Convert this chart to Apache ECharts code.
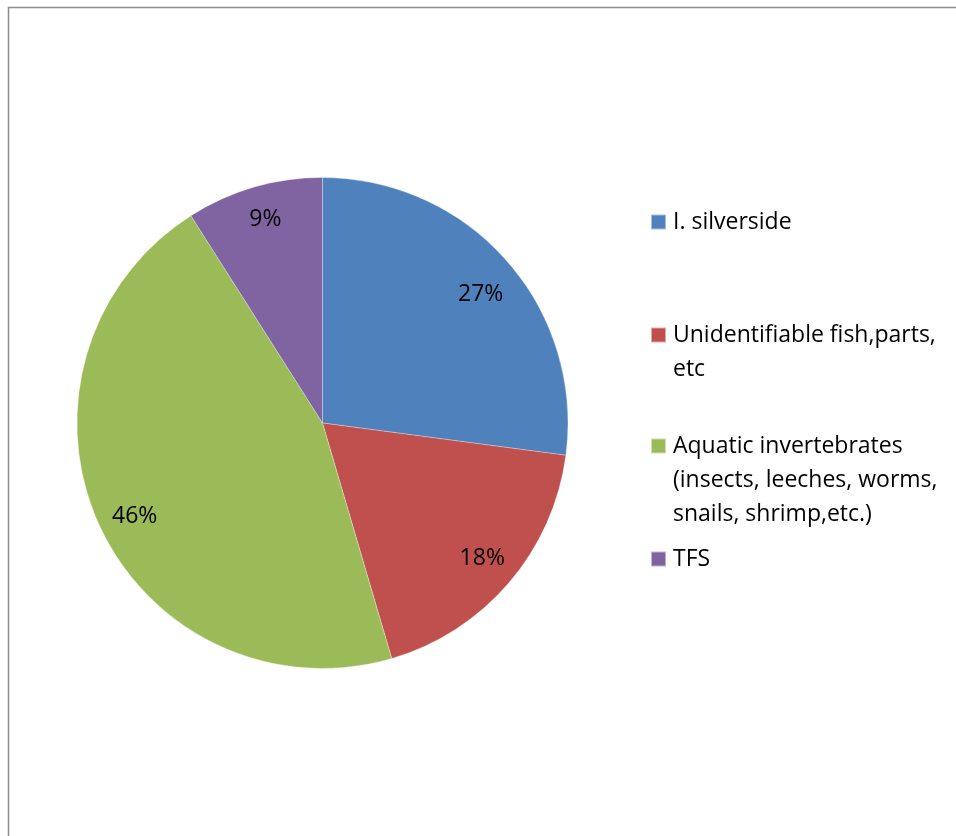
<!DOCTYPE html>
<html>
<head>
<meta charset="utf-8">
<script src="https://cdn.jsdelivr.net/npm/echarts@6/dist/echarts.min.js"></script>
<style>
html,body{margin:0;padding:0;background:#fff;}
#chart{width:956px;height:836px;}
</style>
</head>
<body>
<div id="chart"></div>
<script>
const categories = ['I. silverside', 'Unidentifiable fish,parts, etc', 'Aquatic invertebrates (insects, leeches, worms, snails, shrimp,etc.)', 'TFS'];
const legendLines = [
  ['I. silverside'],
  ['Unidentifiable fish,parts,', 'etc'],
  ['Aquatic invertebrates', '(insects, leeches, worms,', 'snails, shrimp,etc.)'],
  ['TFS']
];
const values = [27.1, 18.35, 45.55, 9.0];
const colors = ['#4F81BD', '#C0504D', '#9BBB59', '#8064A2'];

const FONT = 'Open Sans';
const LH = 34;
const R = 245.5;
const CX = 322.5, CY = 423;
const legendFirstLineCenters = [222, 335, 446, 559];
const labelNudges = [[-1, 11], [-1, -2], [5, 6], [2, 0]];

const data = categories.map((c, i) => ({ name: c, value: values[i], itemStyle: { color: colors[i] } }));

const legends = categories.map((c, i) => {
  const n = legendLines[i].length;
  return {
    show: true,
    orient: 'vertical',
    left: 650,
    top: legendFirstLineCenters[i] - LH / 2 - (n - 1) * LH,
    padding: 0,
    itemWidth: 15,
    itemHeight: 15,
    icon: 'rect',
    selectedMode: false,
    data: [c],
    formatter: function (name) {
      const k = categories.indexOf(name);
      const lines = legendLines[k];
      return new Array(lines.length - 1).fill('').concat(lines).join('\n');
    },
    textStyle: {
      fontFamily: FONT,
      fontSize: 23,
      color: '#000',
      lineHeight: LH,
      padding: [0, 0, 0, 2]
    }
  };
});

const chart = echarts.init(document.getElementById('chart'), null, { renderer: 'canvas' });
chart.setOption({
  animation: false,
  backgroundColor: '#fff',
  legend: legends,
  graphic: [{
    type: 'polyline',
    silent: true,
    shape: { points: [[8.5, 840], [8.5, 7.5], [960, 7.5]] },
    style: { stroke: '#8c8c8c', lineWidth: 1.5, fill: null }
  }],
  series: [
    {
      type: 'pie',
      center: [CX, CY],
      radius: [0, R],
      startAngle: 90,
      clockwise: true,
      data: data,
      label: { show: false },
      labelLine: { show: false },
      itemStyle: { borderColor: 'rgba(255,255,255,0.5)', borderWidth: 0.6 },
      emphasis: { disabled: true },
      silent: true
    },
    {
      type: 'pie',
      center: [CX, CY],
      radius: [R * 0.7, R],
      startAngle: 90,
      clockwise: true,
      data: categories.map((c, i) => ({ name: c, value: values[i] })),
      itemStyle: { color: 'rgba(0,0,0,0)', borderWidth: 0 },
      label: {
        show: true,
        position: 'inside',
        formatter: function (p) { return Math.round(p.percent) + '%'; },
        fontFamily: FONT,
        fontSize: 23,
        color: '#000'
      },
      labelLayout: function (p) {
        const nd = labelNudges[p.dataIndex] || [0, 0];
        return { dx: nd[0], dy: nd[1] };
      },
      labelLine: { show: false },
      emphasis: { disabled: true },
      silent: true
    }
  ]
});
</script>
</body>
</html>
